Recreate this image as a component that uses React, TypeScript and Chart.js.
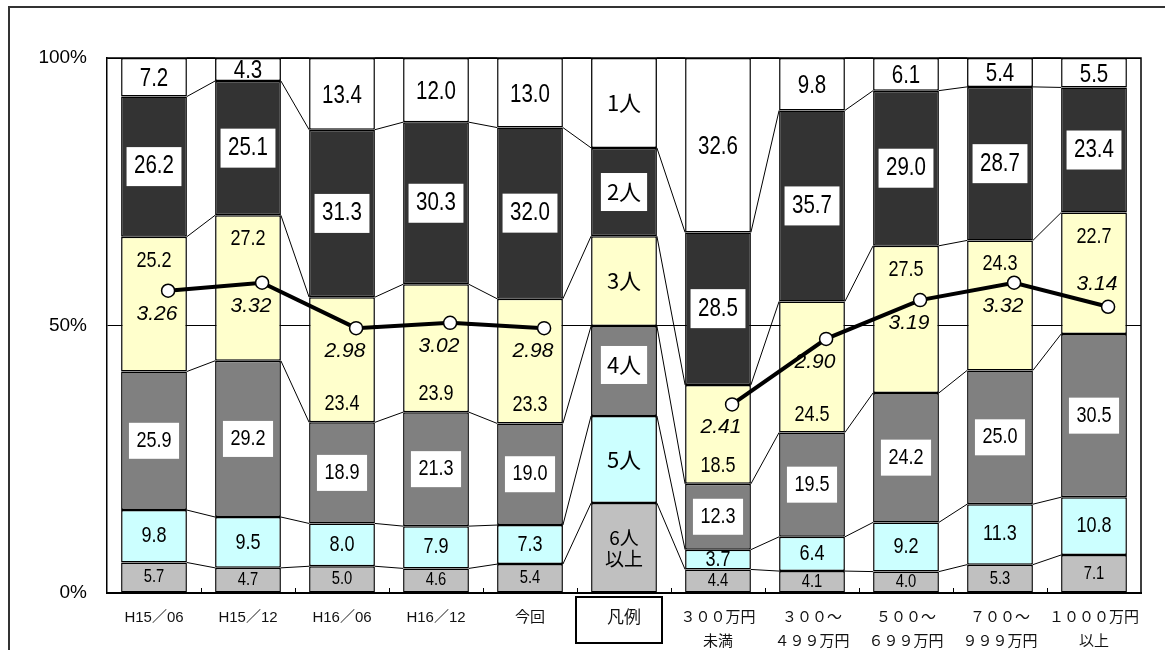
import React, { useEffect, useRef } from 'react';
import { Chart, registerables } from 'chart.js';

Chart.register(...registerables);

// ---------- data ----------
const categories: (string | string[])[] = [
  'H15／06', 'H15／12', 'H16／06', 'H16／12', '今回', '凡例',
  ['３００万円', '未満'], ['３００～', '４９９万円'], ['５００～', '６９９万円'],
  ['７００～', '９９９万円'], ['１０００万円', '以上'],
];
const LEGEND_INDEX = 5;

const seriesNames = ['6人以上', '5人', '4人', '3人', '2人', '1人'];
const legendLabels = [['6人', '以上'], ['5人'], ['4人'], ['3人'], ['2人'], ['1人']];

const sixOrMore = [5.7, 4.7, 5.0, 4.6, 5.4, 16.8, 4.4, 4.1, 4.0, 5.3, 7.1];
const five = [9.8, 9.5, 8.0, 7.9, 7.3, 16.3, 3.7, 6.4, 9.2, 11.3, 10.8];
const four = [25.9, 29.2, 18.9, 21.3, 19.0, 16.8, 12.3, 19.5, 24.2, 25.0, 30.5];
const three = [25.2, 27.2, 23.4, 23.9, 23.3, 16.8, 18.5, 24.5, 27.5, 24.3, 22.7];
const two = [26.2, 25.1, 31.3, 30.3, 32.0, 16.5, 28.5, 35.7, 29.0, 28.7, 23.4];
const one = [7.2, 4.3, 13.4, 12.0, 13.0, 16.8, 32.6, 9.8, 6.1, 5.4, 5.5];
const avgHouseholdSize = [3.26, 3.32, 2.98, 3.02, 2.98, null, 2.41, 2.90, 3.19, 3.32, 3.14];
const yTickValues = [0, 50, 100];

const seriesValues = [sixOrMore, five, four, three, two, one];

// ---------- styles ----------
const seriesColors = ['#C0C0C0', '#CCFFFF', '#808080', '#FFFFCC', '#333333', '#FFFFFF'];
const boxedLabel = [false, false, true, false, true, false];
const labelFontSize = [18, 22, 22, 22, 25, 25];
const yellowLabelPlacement = ['top', 'top', 'bottom', 'bottom', 'bottom', 'center', 'bottom', 'bottom', 'top', 'top', 'top'];
const avgLabelSide = [1, 1, 1, 1, 1, 0, 1, 1, 1, 1, -1];
const LINE_SHIFT = 0.15;
const CJK = '"Noto Sans CJK JP", sans-serif';

function fontAvailable(name: string) {
  try {
    const ctx = document.createElement('canvas').getContext('2d')!;
    const sample = 'mmmWWWiii0123456789%';
    ctx.font = '40px monospace';
    const a = ctx.measureText(sample).width;
    ctx.font = `40px "${name}", monospace`;
    const b = ctx.measureText(sample).width;
    return Math.abs(a - b) > 0.5;
  } catch (e) {
    return false;
  }
}

export default function App() {
  const ref = useRef<HTMLCanvasElement | null>(null);

  useEffect(() => {
    if (!ref.current) return;
    const narrow = fontAvailable('Liberation Sans Narrow');

    const setNumFont = (ctx: CanvasRenderingContext2D, size: number) => {
      ctx.font = narrow ? `${size}px "Liberation Sans Narrow"` : `${size}px "Liberation Sans", Arial, sans-serif`;
    };
    const numWidth = (ctx: CanvasRenderingContext2D, text: string, size: number) => {
      ctx.save();
      setNumFont(ctx, size);
      const w = ctx.measureText(text).width * (narrow ? 1 : 0.82);
      ctx.restore();
      return w;
    };
    const drawNum = (ctx: CanvasRenderingContext2D, text: string, x: number, y: number, size: number) => {
      ctx.save();
      ctx.textAlign = 'center';
      ctx.textBaseline = 'middle';
      ctx.fillStyle = '#000';
      setNumFont(ctx, size);
      if (narrow) {
        ctx.fillText(text, x, y);
      } else {
        ctx.translate(x, y);
        ctx.scale(0.82, 1);
        ctx.fillText(text, 0, 0);
      }
      ctx.restore();
    };

    const decor = {
      id: 'decor',
      beforeDraw(chart: any) {
        const ctx = chart.ctx;
        ctx.save();
        ctx.strokeStyle = '#333';
        ctx.lineWidth = 2;
        ctx.beginPath();
        ctx.moveTo(9, 650);
        ctx.lineTo(9, 7);
        ctx.lineTo(1165, 7);
        ctx.stroke();
        ctx.restore();
      },
      beforeDatasetsDraw(chart: any) {
        const ctx = chart.ctx;
        const xs = chart.scales.x;
        const area = chart.chartArea;
        ctx.save();
        ctx.strokeStyle = '#000';
        ctx.lineWidth = 1;
        // connector lines between segments
        for (let d = 0; d < seriesValues.length; d++) {
          const meta = chart.getDatasetMeta(d);
          for (let i = 0; i < meta.data.length - 1; i++) {
            const a = meta.data[i];
            const b = meta.data[i + 1];
            ctx.beginPath();
            ctx.moveTo(a.x + a.width / 2, a.y);
            ctx.lineTo(b.x - b.width / 2, b.y);
            ctx.stroke();
          }
        }
        // small inner tick marks on category boundaries
        for (let i = 0; i < categories.length - 1; i++) {
          const xb = Math.round((xs.getPixelForValue(i) + xs.getPixelForValue(i + 1)) / 2) + 0.5;
          ctx.beginPath();
          ctx.moveTo(xb, area.bottom);
          ctx.lineTo(xb, area.bottom - 5);
          ctx.stroke();
        }
        ctx.restore();
      },
      afterDatasetsDraw(chart: any) {
        const ctx = chart.ctx;
        const xs = chart.scales.x;
        const area = chart.chartArea;
        // plot frame
        ctx.save();
        ctx.strokeStyle = '#000';
        ctx.lineWidth = 1.5;
        ctx.beginPath();
        ctx.moveTo(area.left, area.top);
        ctx.lineTo(area.right, area.top);
        ctx.lineTo(area.right, area.bottom);
        ctx.stroke();
        ctx.restore();

        // stacked segment labels
        for (let d = 0; d < seriesValues.length; d++) {
          const meta = chart.getDatasetMeta(d);
          meta.data.forEach((el: any, i: number) => {
            const x = el.x;
            let y = (el.y + el.base) / 2;
            if (d === 3) {
              const p = yellowLabelPlacement[i];
              if (p === 'top') y = el.y + 24;
              else if (p === 'bottom') y = el.base - 18;
            }
            if (i === LEGEND_INDEX) {
              const lines = legendLabels[d];
              const size = lines.length > 1 ? 19 : 22;
              const dy = d === 2 ? -6 : 0;
              ctx.save();
              ctx.font = `${size}px ${CJK}`;
              ctx.textAlign = 'center';
              ctx.textBaseline = 'middle';
              if (boxedLabel[d]) {
                const w = Math.max(...lines.map((t) => ctx.measureText(t).width)) + 12;
                const h = 38;
                ctx.fillStyle = '#fff';
                ctx.fillRect(x - w / 2, y - h / 2 + dy, w, h);
              }
              ctx.fillStyle = '#000';
              const lh = 21;
              lines.forEach((t, k) => {
                ctx.fillText(t, x, y + (k - (lines.length - 1) / 2) * lh + dy);
              });
              ctx.restore();
              return;
            }
            const text = seriesValues[d][i].toFixed(1);
            const size = labelFontSize[d];
            if (boxedLabel[d]) {
              const w = numWidth(ctx, text, size) + 15;
              const h = size + 14;
              ctx.save();
              ctx.fillStyle = '#fff';
              ctx.fillRect(x - w / 2, y - h / 2, w, h);
              ctx.restore();
            }
            drawNum(ctx, text, x, y + (d === 5 ? 2 : 0), size);
          });
        }

        // average household size labels
        const lineMeta = chart.getDatasetMeta(seriesValues.length);
        lineMeta.data.forEach((pt: any, i: number) => {
          const v = avgHouseholdSize[i];
          if (v == null || !avgLabelSide[i]) return;
          const x = xs.getPixelForValue(i) + 3;
          const y = pt.y + avgLabelSide[i] * 23;
          ctx.save();
          ctx.font = 'italic 21px "Liberation Sans", Arial, sans-serif';
          ctx.textAlign = 'center';
          ctx.textBaseline = 'middle';
          ctx.fillStyle = '#000';
          ctx.fillText(v.toFixed(2), x, y);
          ctx.restore();
        });
      },
      afterDraw(chart: any) {
        const ctx = chart.ctx;
        const xs = chart.scales.x;
        const xc = xs.getPixelForValue(LEGEND_INDEX) - 5;
        ctx.save();
        ctx.strokeStyle = '#000';
        ctx.lineWidth = 2;
        ctx.strokeRect(xc - 43, 597, 86, 46);
        ctx.restore();
      },
    };

    const datasets: any[] = seriesValues.map((vals, d) => ({
      type: 'bar',
      label: seriesNames[d],
      data: vals,
      backgroundColor: seriesColors[d],
      borderColor: '#000',
      borderWidth: 1.5,
      borderSkipped: false,
      barPercentage: 0.7,
      categoryPercentage: 1.0,
      grouped: false,
      order: 1,
    }));
    datasets.push({
      type: 'line',
      label: '平均世帯人員',
      data: avgHouseholdSize.map((v, i) => ({ x: i, y: v })),
      xAxisID: 'xl',
      yAxisID: 'y2',
      borderColor: '#000',
      borderWidth: 4,
      pointRadius: 6.5,
      pointBackgroundColor: '#fff',
      pointBorderColor: '#000',
      pointBorderWidth: 1.5,
      spanGaps: false,
      order: 0,
    });

    const chart = new Chart(ref.current, {
      type: 'bar',
      data: { labels: categories as any, datasets },
      options: {
        animation: false,
        responsive: false,
        devicePixelRatio: 1,
        layout: { padding: { top: 58, right: 24, left: 0, bottom: 0 } },
        plugins: { legend: { display: false }, tooltip: { enabled: false } },
        scales: {
          x: {
            stacked: true,
            offset: true,
            grid: { display: false, drawTicks: false },
            border: { display: true, color: '#000', width: 2 },
            ticks: {
              autoSkip: false,
              maxRotation: 0,
              minRotation: 0,
              padding: 13,
              color: '#111',
              font: (c: any) => ({
                family: '"Liberation Sans", ' + CJK,
                size: c.index === LEGEND_INDEX ? 17 : 15,
                lineHeight: '24px',
              }),
            },
            afterFit: (s: any) => { s.height = 57; },
          },
          y: {
            stacked: true,
            min: 0,
            max: 100,
            afterBuildTicks: (s: any) => { s.ticks = yTickValues.map((v) => ({ value: v })); },
            grid: { color: '#000', lineWidth: 1, drawTicks: false },
            border: { display: true, color: '#000', width: 1.5 },
            ticks: {
              padding: 20,
              color: '#000',
              callback: (v: any) => v + '%',
              font: narrow ? { family: '"Liberation Sans Narrow"', size: 22 } : { family: '"Liberation Sans"', size: 19 },
            },
            afterFit: (s: any) => { s.width = 107; },
          },
          y2: { type: 'linear', display: false, min: 1, max: 5 },
          xl: {
            type: 'linear',
            display: false,
            offset: false,
            grace: 0,
            min: -0.5 - LINE_SHIFT,
            max: categories.length - 0.5 - LINE_SHIFT,
          },
        },
      } as any,
      plugins: [decor],
    });
    return () => chart.destroy();
  }, []);

  return (
    <div style={{ position: 'fixed', left: 0, top: 0, width: 1165, height: 650, background: '#fff' }}>
      <canvas ref={ref} width={1165} height={650} style={{ display: 'block' }} />
    </div>
  );
}
